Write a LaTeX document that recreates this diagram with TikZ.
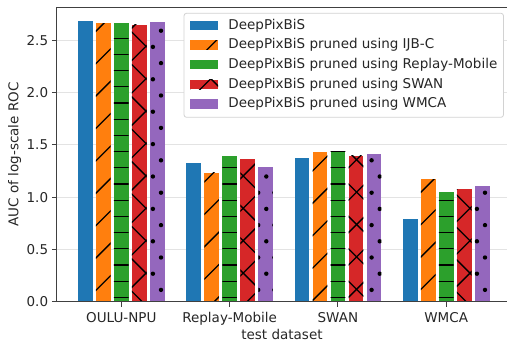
\documentclass[tikz,border=0pt]{standalone}
\usepackage{fontspec}
\setmainfont{DejaVu Sans}
\definecolor{tabblue}{HTML}{1F77B4}
\definecolor{taborange}{HTML}{FF7F0E}
\definecolor{tabgreen}{HTML}{2CA02C}
\definecolor{tabred}{HTML}{D62728}
\definecolor{tabpurple}{HTML}{9467BD}
\begin{document}
\begin{tikzpicture}[x=1pt,y=1pt,font=\fontsize{13.5}{16}\selectfont,
	gridline/.style={gray!22,line width=1.2pt},
	spine/.style={black!75,line width=1pt},
	hatchline/.style={black,line width=1.3pt},
	plain/.style={},
	hatchne/.style={path picture={\foreach \n in {-15,...,9} \draw[hatchline] (-10,-5.2+32.4*\n) -- (460,464.8+32.4*\n);}},
	hatchh/.style={path picture={\foreach \n in {0,...,18} \draw[hatchline] (-10,4.3+16.2*\n) -- (460,4.3+16.2*\n);}},
	hatchx/.style={path picture={\foreach \n in {-15,...,9} \draw[hatchline] (-10,-5.6+32.4*\n) -- (460,464.4+32.4*\n);
		\foreach \n in {-1,...,23} \draw[hatchline] (-10,30.4+32.4*\n) -- (460,-439.6+32.4*\n);}},
	hatchdot/.style={path picture={\foreach \j in {-1,...,17} \foreach \i in {0,...,27}
		\fill[black] ({6.8+16.2*\i+8.1*mod(\j+2,2)},{11.8+16.2*\j}) circle (2.2);}}]

	\useasboundingbox (-57,-39.3) rectangle (450,301.7);

	\foreach \v in {0.5,1.0,1.5,2.0,2.5} \draw[gridline] (0,104.6*\v) -- (450,104.6*\v);

	\foreach \col/\k/\pat/\vals in {tabblue/0/plain/{2.68,1.33,1.37,0.788},
		taborange/1/hatchne/{2.66,1.233,1.434,1.17},
		tabgreen/2/hatchh/{2.66,1.39,1.444,1.046},
		tabred/3/hatchx/{2.65,1.36,1.393,1.075},
		tabpurple/4/hatchdot/{2.67,1.285,1.415,1.106}}
		\foreach \v [count=\g from 0] in \vals
			\path[fill=\col,\pat] ({64.3+108.3*\g+18*(\k-2)-7.35},0) rectangle +(14.7,{104.6*\v});

	\draw[spine] (0,294.7) -- (0,0) -- (450,0);
	\draw[spine] (0,294.7) -- (450,294.7);

	\foreach \v [count=\i] in {0.0,0.5,1.0,1.5,2.0,2.5} {
		\draw[spine] (-5,104.6*\v) -- (0,104.6*\v);
		\node[anchor=east,inner sep=0pt,text=black!85] (ytick\i) at (-8.7,104.6*\v) {\v};
	}
	\foreach \lab [count=\g from 0] in {OULU-NPU,Replay-Mobile,SWAN,WMCA} {
		\draw[spine] (64.3+108.3*\g,0) -- (64.3+108.3*\g,-5);
		\node[anchor=base,inner sep=0pt,text=black!85] (xtick\g) at (64.3+108.3*\g,-20.6) {\lab};
	}
	\node[anchor=base,inner sep=0pt,text=black!85] (xlabel) at (225,-37.3) {test dataset};
	\node[anchor=base,rotate=90,inner sep=0pt,text=black!85] (ylabel) at (-38.7,147.3) {AUC of log-scale ROC};

	\draw[gray!35,fill=white,rounded corners=2.5pt,line width=0.8pt] (127,184.4) rectangle (446.5,288.4);
	\foreach \col/\pat/\txt [count=\r from 0] in {tabblue/plain/DeepPixBiS,
		taborange/hatchne/DeepPixBiS pruned using IJB-C,
		tabgreen/hatchh/DeepPixBiS pruned using Replay-Mobile,
		tabred/hatchx/DeepPixBiS pruned using SWAN,
		tabpurple/hatchdot/DeepPixBiS pruned using WMCA} {
		\path[fill=\col,\pat] (133,{276.2-19.6*\r-4.7}) rectangle +(28,9.4);
		\node[anchor=west,inner sep=0pt,text=black!85] (leg\r) at (171.3,{276.2-19.6*\r}) {\txt};
	}

\end{tikzpicture}
\end{document}
